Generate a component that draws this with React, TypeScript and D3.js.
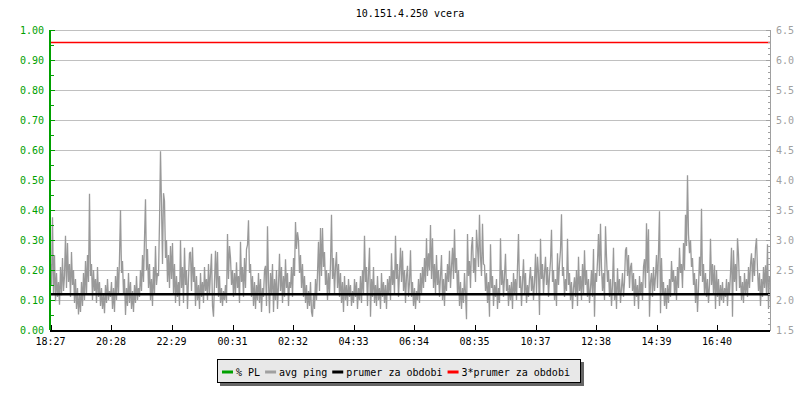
import React from "react";
import * as d3 from "d3";

const title = "10.151.4.250 vcera";
const plTickValues = [0, 0.1, 0.2, 0.3, 0.4, 0.5, 0.6, 0.7, 0.8, 0.9, 1.0];
const plTickLabels = ["0.00", "0.10", "0.20", "0.30", "0.40", "0.50", "0.60", "0.70", "0.80", "0.90", "1.00"];
const pingTickValues = [1.5, 2.0, 2.5, 3.0, 3.5, 4.0, 4.5, 5.0, 5.5, 6.0, 6.5];
const pingTickLabels = ["1.5", "2.0", "2.5", "3.0", "3.5", "4.0", "4.5", "5.0", "5.5", "6.0", "6.5"];
const timeLabels = ["18:27", "20:28", "22:29", "00:31", "02:32", "04:33", "06:34", "08:35", "10:37", "12:38", "14:39", "16:40"];
const startLabel = "18:27";
const stepMinutes = 2;
const spanMinutes = 1440;
const prumerZaObdobi = 2.097;

const legendItems = [
  { label: "% PL", color: "#00a000" },
  { label: "avg ping", color: "#a0a0a0" },
  { label: "prumer za obdobi", color: "#000000" },
  { label: "3*prumer za obdobi", color: "#ff0000" },
];

const ping1 = [2.60, 2.25, 3.38, 2.10, 2.75, 1.98, 2.45, 2.05, 2.30, 1.92, 2.55, 2.08, 2.70, 2.15, 2.40, 3.07, 2.20, 2.95, 2.30, 2.60, 2.05, 2.80, 2.25, 2.50, 1.95, 2.35, 1.85, 2.20, 1.76, 2.10, 1.80, 2.30, 1.90, 2.45, 2.00, 2.65, 2.10, 2.75, 2.30, 3.77, 2.40, 2.60, 2.00, 2.50, 2.15, 2.35, 1.95, 2.55, 2.05, 2.30, 1.90, 2.20, 1.85, 2.10, 1.78, 2.25, 1.95, 2.35, 2.00, 2.15];
const ping2 = [2.05, 2.30, 1.85, 2.20, 1.80, 2.40, 2.00, 2.55, 2.10, 2.70, 3.50, 2.45, 2.65, 2.10, 2.35, 1.75, 2.20, 1.90, 2.45, 1.95, 2.30, 1.85, 2.15, 1.80, 2.25, 1.95, 2.40, 2.00, 2.20, 2.05, 2.50, 2.15, 2.75, 2.30, 3.02, 3.68, 2.50, 2.85, 2.20, 2.60, 2.00, 2.35, 1.90, 2.55, 2.10, 2.90, 2.25, 2.45, 2.40, 3.30, 4.48, 3.58, 2.60, 3.78, 3.65, 2.70, 3.00, 2.30, 2.75, 2.20];
const ping3 = [2.90, 2.35, 2.95, 2.10, 2.60, 1.95, 2.40, 2.05, 2.30, 1.90, 3.00, 2.20, 2.55, 1.95, 2.87, 2.25, 2.50, 1.85, 2.35, 2.78, 2.80, 2.15, 2.88, 2.30, 2.55, 1.90, 2.40, 2.00, 2.25, 1.85, 2.45, 2.05, 2.30, 1.95, 2.55, 2.15, 2.35, 2.00, 2.60, 2.10, 2.45, 2.77, 1.90, 1.72, 2.30, 2.82, 2.20, 2.80, 2.05, 2.40, 1.95, 2.20, 1.90, 2.15, 2.00, 2.25, 1.95, 3.10, 2.35, 2.90];
const ping4 = [2.70, 2.25, 2.50, 2.05, 2.45, 2.10, 2.63, 2.20, 2.40, 1.95, 2.97, 2.30, 2.55, 2.05, 2.70, 2.20, 2.85, 2.92, 3.33, 2.45, 2.60, 2.05, 2.40, 1.90, 2.30, 1.85, 2.25, 2.00, 2.45, 1.95, 2.35, 1.80, 2.20, 2.05, 2.50, 2.57, 1.90, 3.23, 2.30, 1.78, 2.45, 2.10, 2.60, 1.80, 2.35, 2.00, 2.50, 1.85, 2.25, 2.77, 2.15, 2.55, 1.95, 2.40, 2.05, 2.68, 2.20, 2.45, 1.90, 2.30];
const ping5 = [2.20, 2.55, 2.05, 2.70, 2.40, 3.30, 2.85, 3.13, 3.00, 2.45, 2.75, 2.20, 2.60, 2.05, 2.40, 1.95, 2.25, 1.85, 2.15, 1.90, 2.30, 1.80, 1.72, 2.10, 1.85, 2.35, 2.00, 2.45, 2.97, 2.15, 3.20, 2.40, 3.20, 2.55, 2.80, 2.25, 2.50, 2.00, 2.45, 2.10, 2.60, 3.42, 2.35, 2.70, 2.10, 2.55, 2.80, 2.20, 2.60, 2.05, 2.45, 1.95, 2.30, 1.80, 2.40, 2.00, 2.25, 1.90, 2.35, 2.05];
const ping6 = [2.25, 1.90, 2.15, 1.95, 2.35, 2.05, 2.30, 1.85, 2.20, 2.00, 2.40, 1.95, 2.50, 2.10, 3.07, 2.30, 2.55, 1.90, 2.45, 2.87, 1.72, 2.35, 2.05, 2.55, 1.95, 2.25, 1.90, 2.40, 2.00, 2.20, 1.85, 2.45, 2.05, 2.30, 1.95, 2.25, 1.85, 2.35, 2.10, 2.40, 2.00, 2.78, 2.25, 2.50, 2.10, 3.07, 2.35, 2.60, 2.05, 2.45, 2.87, 2.30, 2.82, 2.15, 2.50, 1.95, 2.40, 2.57, 2.05, 2.30];
const ping7 = [2.83, 2.05, 2.30, 1.90, 2.20, 1.85, 2.15, 2.00, 2.35, 1.95, 2.45, 2.10, 2.55, 2.20, 2.70, 2.30, 3.03, 2.40, 2.78, 2.50, 3.25, 2.35, 3.03, 2.20, 2.60, 2.10, 2.75, 2.25, 2.50, 2.05, 2.40, 2.75, 2.00, 2.35, 1.90, 2.45, 2.15, 2.60, 2.30, 2.82, 2.20, 2.55, 2.87, 2.35, 3.18, 2.45, 2.70, 2.10, 2.50, 1.90, 2.30, 1.85, 2.20, 1.95, 2.45, 2.10, 1.68, 3.10, 2.40, 2.65];
const ping8 = [2.20, 2.88, 3.05, 2.45, 2.70, 2.30, 3.17, 2.88, 2.55, 3.42, 2.72, 2.40, 3.27, 2.60, 2.58, 2.15, 2.45, 1.95, 2.30, 1.72, 2.93, 2.20, 2.40, 1.90, 2.25, 2.05, 2.35, 1.85, 2.20, 1.95, 3.03, 2.25, 2.50, 2.05, 2.40, 2.77, 2.15, 2.35, 1.90, 2.25, 2.00, 2.30, 1.85, 2.45, 2.10, 2.35, 2.00, 2.55, 3.10, 2.20, 2.40, 1.90, 2.30, 2.68, 2.10, 2.45, 1.95, 2.25, 2.05, 2.35];
const ping9 = [2.55, 2.15, 2.40, 2.00, 2.30, 2.77, 2.10, 2.72, 2.45, 1.75, 3.02, 2.35, 2.60, 2.10, 2.45, 2.72, 2.25, 2.55, 2.05, 2.40, 2.65, 3.17, 2.30, 2.50, 2.00, 2.35, 1.90, 2.78, 2.25, 2.60, 2.83, 3.43, 2.40, 2.55, 2.05, 2.35, 2.15, 3.02, 2.25, 2.45, 2.00, 2.30, 1.85, 2.20, 2.38, 2.05, 2.50, 1.90, 2.72, 2.15, 2.40, 2.00, 2.60, 2.10, 2.83, 2.25, 2.50, 2.05, 2.35, 1.95];
const ping10 = [2.20, 2.50, 2.05, 2.85, 1.72, 2.45, 2.30, 2.65, 3.10, 2.40, 3.27, 2.55, 2.15, 2.45, 2.00, 3.23, 2.72, 2.30, 2.50, 2.05, 2.35, 1.90, 2.25, 2.87, 2.00, 2.30, 1.85, 2.53, 2.10, 2.35, 1.95, 2.20, 2.45, 2.05, 2.30, 2.83, 2.88, 2.40, 2.75, 2.20, 2.55, 2.62, 2.15, 2.45, 1.90, 2.35, 2.05, 2.25, 1.85, 2.40, 2.10, 2.30, 2.00, 2.55, 2.68, 2.20, 3.28, 2.45, 3.18, 1.72];
const ping11 = [2.30, 2.45, 2.05, 2.55, 2.15, 2.40, 2.75, 2.20, 2.80, 3.48, 1.78, 2.70, 2.10, 2.30, 1.90, 2.20, 1.85, 2.25, 1.95, 2.35, 2.05, 2.65, 2.30, 2.50, 2.10, 2.40, 2.00, 2.55, 2.20, 2.87, 2.45, 2.60, 2.20, 2.95, 2.50, 3.42, 2.90, 4.08, 3.10, 2.78, 3.00, 2.55, 2.70, 2.25, 2.45, 1.95, 2.35, 1.80, 2.20, 2.72, 2.40, 3.52, 2.30, 2.60, 2.10, 2.45, 2.05, 2.35, 1.95, 2.25];
const ping12 = [3.02, 2.25, 2.60, 2.10, 2.58, 1.85, 2.50, 2.05, 2.35, 1.90, 2.25, 2.00, 2.30, 1.95, 2.20, 2.05, 2.35, 1.90, 2.30, 2.10, 2.45, 2.87, 1.72, 2.83, 2.30, 2.60, 2.15, 3.03, 2.75, 2.20, 2.40, 2.00, 2.30, 1.95, 2.45, 2.10, 2.35, 2.05, 2.55, 2.20, 2.60, 2.78, 2.30, 2.70, 2.40, 2.87, 3.03, 2.50, 2.15, 2.45, 1.90, 2.35, 2.05, 2.55, 2.20, 2.58, 2.10, 2.93, 1.85, 2.40];

const avgPing = [...ping1, ...ping2, ...ping3, ...ping4, ...ping5, ...ping6, ...ping7, ...ping8, ...ping9, ...ping10, ...ping11, ...ping12];

const FONT = "'DejaVu Sans Mono', monospace";
const W = 800;
const H = 400;
const L = 50;
const R = 770;
const T = 30;
const B = 330;

function toDate(label: string, base: Date): Date {
  const [h, m] = label.split(":").map(Number);
  const d = new Date(base.getFullYear(), base.getMonth(), base.getDate(), h, m);
  if (d.getTime() < base.getTime()) d.setDate(d.getDate() + 1);
  return d;
}

export default function App() {
  const [sh, sm] = startLabel.split(":").map(Number);
  const start = new Date(2024, 0, 1, sh, sm);
  const end = new Date(start.getTime() + spanMinutes * 60000);
  const x = d3.scaleTime().domain([start, end]).range([L + 0.5, R + 0.5]);
  const yPL = d3.scaleLinear().domain([0, 1]).range([B, T]);
  const yPing = d3.scaleLinear().domain([1.5, 6.5]).range([B, T]);

  const pts = avgPing.map((v, i) => ({ t: new Date(start.getTime() + i * stepMinutes * 60000), v }));
  const line = d3
    .line<{ t: Date; v: number }>()
    .x((d) => x(d.t))
    .y((d) => yPing(d.v));

  const plMinor = d3.range(0.05, 1, 0.1);
  const pingMinor = d3.range(1.6, 6.45, 0.1).filter((v) => Math.abs(v * 2 - Math.round(v * 2)) > 0.01);

  const charW = 6.02;
  let lx = 222;
  const legendPos = legendItems.map((it) => {
    const p = { ...it, lx, tx: lx + 14 };
    lx = lx + 14 + it.label.length * charW + 5;
    return p;
  });

  return (
    <svg width={W} height={H} style={{ position: "absolute", left: 0, top: 0, background: "#fff" }} fontFamily={FONT}>
      <rect x={0} y={0} width={W} height={H} fill="#fff" />
      <text x={410} y={17} fontSize={10} textAnchor="middle" fill="#000">{title}</text>

      {plTickValues.map((v) => (
        <line key={"g" + v} x1={L} x2={R} y1={Math.round(yPL(v)) + 0.5} y2={Math.round(yPL(v)) + 0.5} stroke="#c0c0c0" strokeWidth={1} />
      ))}

      <path d={line(pts) || ""} fill="none" stroke="#999999" strokeWidth={1.3} strokeLinejoin="miter" strokeMiterlimit={2} />

      <line x1={L} x2={R} y1={yPing(prumerZaObdobi)} y2={yPing(prumerZaObdobi)} stroke="#000" strokeWidth={2.5} />
      <line x1={L} x2={R} y1={yPing(3 * prumerZaObdobi)} y2={yPing(3 * prumerZaObdobi)} stroke="#ff0000" strokeWidth={1.5} />

      {/* left axis */}
      <line x1={50} x2={50} y1={T} y2={B} stroke="#00a000" strokeWidth={2} />
      {plTickValues.map((v, i) => (
        <g key={"pl" + v}>
          <line x1={50} x2={55} y1={Math.round(yPL(v)) + 0.5} y2={Math.round(yPL(v)) + 0.5} stroke="#00a000" strokeWidth={1} />
          <text x={44} y={yPL(v) + 4} fontSize={10} textAnchor="end" fill="#00a000">{plTickLabels[i]}</text>
        </g>
      ))}
      {plMinor.map((v) => (
        <line key={"plm" + v} x1={50} x2={54} y1={Math.round(yPL(v)) + 0.5} y2={Math.round(yPL(v)) + 0.5} stroke="#00a000" strokeWidth={1} />
      ))}

      {/* right axis */}
      <line x1={770.5} x2={770.5} y1={T} y2={B} stroke="#a0a0a0" strokeWidth={1} />
      {pingTickValues.map((v, i) => (
        <g key={"pg" + v}>
          <line x1={766} x2={771} y1={Math.round(yPing(v)) + 0.5} y2={Math.round(yPing(v)) + 0.5} stroke="#a0a0a0" strokeWidth={1} />
          <text x={776} y={yPing(v) + 4} fontSize={10} textAnchor="start" fill="#a0a0a0">{pingTickLabels[i]}</text>
        </g>
      ))}
      {pingMinor.map((v) => (
        <line key={"pgm" + v} x1={768} x2={771} y1={Math.round(yPing(v)) + 0.5} y2={Math.round(yPing(v)) + 0.5} stroke="#a0a0a0" strokeWidth={1} />
      ))}

      {/* bottom axis */}
      <line x1={L} x2={R} y1={331} y2={331} stroke="#000" strokeWidth={2} />
      {timeLabels.map((lab) => {
        const d = toDate(lab, start);
        const px = Math.round(x(d)) + 0.5;
        return (
          <g key={"t" + lab}>
            <line x1={px} x2={px} y1={325} y2={330} stroke="#000" strokeWidth={1} />
            <text x={x(d)} y={345} fontSize={10} textAnchor="middle" fill="#000">{lab}</text>
          </g>
        );
      })}

      {/* legend */}
      <rect x={220} y={362} width={364} height={24} fill="#666" />
      <rect x={217.5} y={359.5} width={363} height={23} fill="#e8e8e8" stroke="#000" strokeWidth={1} />
      {legendPos.map((it) => (
        <g key={it.label}>
          <line x1={it.lx} x2={it.lx + 11} y1={372} y2={372} stroke={it.color} strokeWidth={3} />
          <text x={it.tx} y={375.5} fontSize={10} fill="#000">{it.label}</text>
        </g>
      ))}
    </svg>
  );
}
